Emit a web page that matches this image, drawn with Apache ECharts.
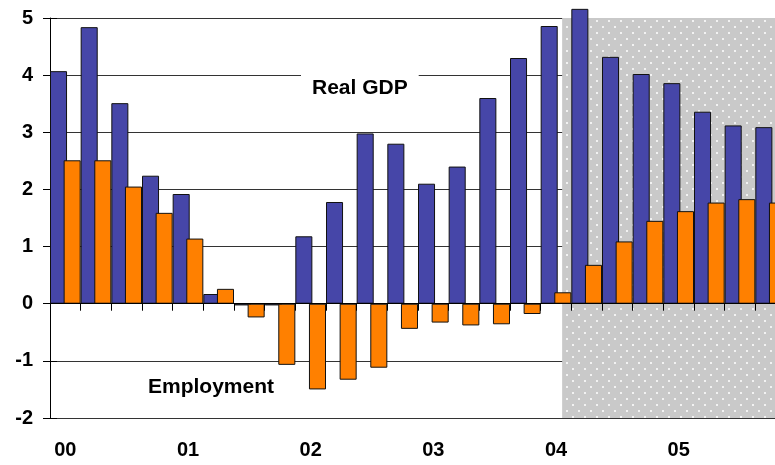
<!DOCTYPE html>
<html>
<head>
<meta charset="utf-8">
<script src="https://cdn.jsdelivr.net/npm/echarts@6/dist/echarts.min.js"></script>
<style>
  html, body { margin: 0; padding: 0; background: #fff; overflow: hidden; }
  /* the plot runs a little past the right edge of the picture */
  #chart { width: 786px; height: 465px; }
</style>
</head>
<body>
<div id="chart"></div>
<script>
// quarters 2000Q1 .. 2005Q4
const quarters = [
  '00Q1', '00Q2', '00Q3', '00Q4',
  '01Q1', '01Q2', '01Q3', '01Q4',
  '02Q1', '02Q2', '02Q3', '02Q4',
  '03Q1', '03Q2', '03Q3', '03Q4',
  '04Q1', '04Q2', '04Q3', '04Q4',
  '05Q1', '05Q2', '05Q3', '05Q4'
];
const realGdp = [
  4.07, 4.84, 3.51, 2.24,
  1.92, 0.17, -0.03, -0.03,
  1.18, 1.78, 2.98, 2.80,
  2.10, 2.40, 3.60, 4.30,
  4.86, 5.16, 4.32, 4.02,
  3.86, 3.36, 3.12, 3.09
];
const employment = [
  2.51, 2.51, 2.05, 1.59,
  1.14, 0.26, -0.24, -1.07,
  -1.50, -1.33, -1.12, -0.44,
  -0.33, -0.38, -0.36, -0.18,
  0.20, 0.68, 1.09, 1.45,
  1.62, 1.77, 1.83, 1.77
];
const yTicks = [-2, -1, 0, 1, 2, 3, 4, 5];
// forecast shading, in quarters from the left edge
const shadeFrom = 16.7;
const shadeTo = 24;

const font = 'Liberation Sans, Arial, sans-serif';

// grey dotted fill for the forecast area
const tile = document.createElement('canvas');
tile.width = 12;
tile.height = 12;
const tctx = tile.getContext('2d');
tctx.fillStyle = '#c9c9c9';
tctx.fillRect(0, 0, 12, 12);
tctx.fillStyle = '#f2f2f2';
tctx.fillRect(2, 2, 2, 2);
tctx.fillRect(8, 8, 2, 2);

const chart = echarts.init(document.getElementById('chart'));

const option = {
  animation: false,
  backgroundColor: '#fff',
  grid: { left: 50, right: 0, top: 18, bottom: 47, containLabel: false },
  xAxis: [
    {
      // zero line with quarter ticks, drawn over the bars
      type: 'category',
      data: quarters,
      position: 'bottom',
      z: 5,
      axisLine: { onZero: true, lineStyle: { color: '#000', width: 1 } },
      axisTick: { show: true, interval: 0, length: 7, lineStyle: { color: '#000' } },
      axisLabel: { show: false, interval: 0 },
      splitLine: { show: false }
    },
    {
      // year labels at the bottom
      type: 'category',
      data: quarters,
      position: 'bottom',
      axisLine: { show: false, onZero: false },
      axisTick: { show: false },
      axisLabel: {
        interval: 0,
        margin: 22,
        color: '#000',
        fontFamily: font,
        fontWeight: 'bold',
        fontSize: 20,
        formatter: v => (v.endsWith('Q1') ? v.slice(0, 2) : '')
      },
      splitLine: { show: false }
    },
    {
      type: 'value',
      min: 0,
      max: 24,
      show: false
    }
  ],
  yAxis: [
    {
      type: 'value',
      min: yTicks[0],
      max: yTicks[yTicks.length - 1],
      interval: 1,
      axisLine: { show: true, lineStyle: { color: '#000' } },
      axisTick: { show: true, length: 7, lineStyle: { color: '#000' } },
      axisLabel: {
        margin: 17,
        color: '#000',
        fontFamily: font,
        fontWeight: 'bold',
        fontSize: 20
      },
      splitLine: { show: true, lineStyle: { color: '#333', width: 1 } }
    },
    {
      type: 'value',
      position: 'left',
      min: yTicks[0],
      max: yTicks[yTicks.length - 1],
      interval: 1,
      axisLine: { show: false },
      axisTick: { show: true, inside: true, length: 7, lineStyle: { color: '#000' } },
      axisLabel: { show: false },
      splitLine: { show: false }
    }
  ],
  series: [
    {
      type: 'line',
      xAxisIndex: 2,
      yAxisIndex: 0,
      data: [],
      z: -1,
      silent: true,
      markArea: {
        silent: true,
        itemStyle: { color: { image: tile, repeat: 'repeat' } },
        data: [[{ xAxis: shadeFrom }, { xAxis: shadeTo }]]
      }
    },
    {
      name: 'Real GDP',
      type: 'bar',
      xAxisIndex: 0,
      data: realGdp,
      clip: false,
      barCategoryGap: '0%',
      barGap: '-20%',
      itemStyle: { color: '#4646a8', borderColor: '#111', borderWidth: 1 }
    },
    {
      name: 'Employment',
      type: 'bar',
      xAxisIndex: 0,
      data: employment,
      clip: false,
      barCategoryGap: '0%',
      barGap: '-20%',
      itemStyle: { color: '#ff8000', borderColor: '#111', borderWidth: 1 }
    }
  ],
  graphic: [
    {
      type: 'text',
      left: 301,
      top: 70,
      z: 10,
      style: {
        text: 'Real GDP',
        font: 'bold 21px ' + font,
        fill: '#000',
        backgroundColor: '#fff',
        padding: [8, 11, 6, 11]
      }
    },
    {
      type: 'text',
      left: 148,
      top: 377,
      z: 10,
      style: {
        text: 'Employment',
        font: 'bold 21px ' + font,
        fill: '#000'
      }
    }
  ]
};

chart.setOption(option);
</script>
</body>
</html>
